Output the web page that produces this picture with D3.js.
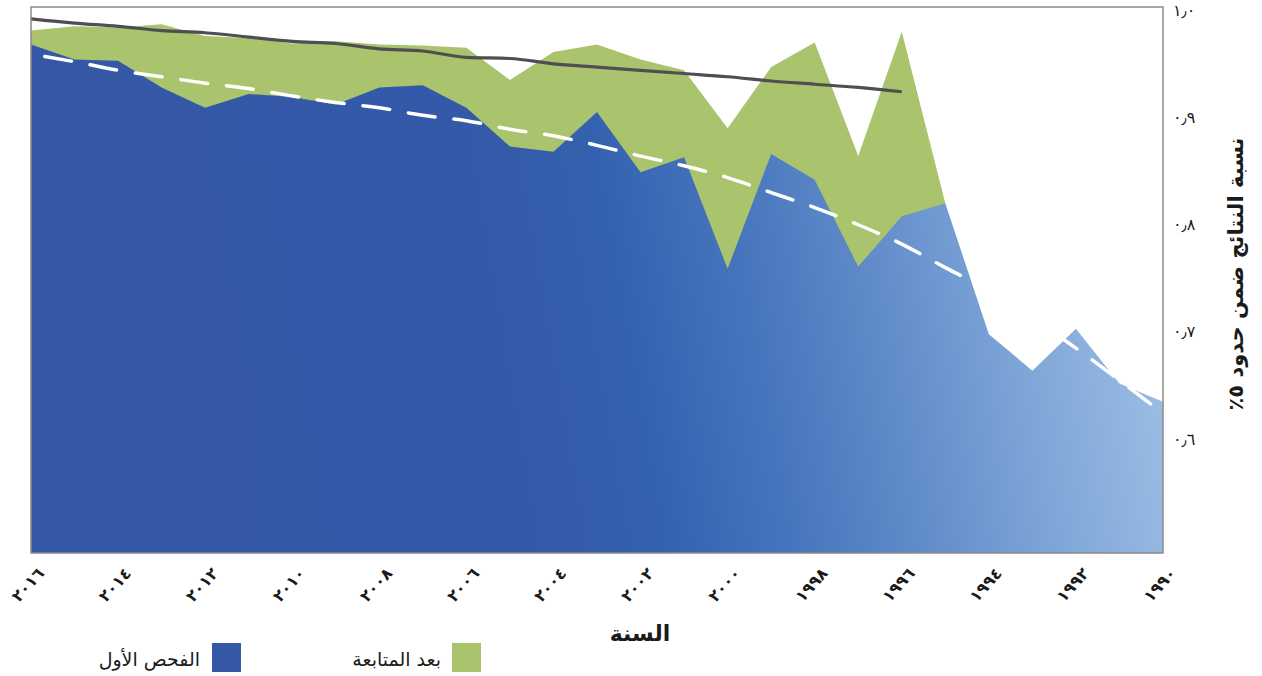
<!DOCTYPE html>
<html lang="ar">
<head>
    <meta charset="UTF-8">
    <title>نسبة النتائج ضمن حدود ٥٪</title>
    <script src="https://d3js.org/d3.v7.min.js"></script>
    <style>
        body { margin: 0; background: #fff; }
        text { font-family: "DejaVu Sans", "Noto Sans", sans-serif; fill: #1a1a1a; }
    </style>
</head>
<body>
</body>

<script>
    var width = 1262;
    var height = 676;

    // years, left to right (2016 -> 1990)
    var years = [2016, 2015, 2014, 2013, 2012, 2011, 2010, 2009, 2008, 2007, 2006, 2005, 2004,
        2003, 2002, 2001, 2000, 1999, 1998, 1997, 1996, 1995, 1994, 1993, 1992, 1991, 1990];

    // الفحص الأول
    var firstExam = [0.965, 0.951, 0.950, 0.925, 0.906, 0.919, 0.916, 0.909, 0.925, 0.927, 0.906, 0.870, 0.865,
        0.902, 0.846, 0.860, 0.756, 0.863, 0.839, 0.758, 0.805, 0.817, 0.695, 0.661, 0.700, 0.649, 0.632];

    // بعد المتابعة (1995 onwards only)
    var followUp = [0.978, 0.982, 0.981, 0.984, 0.973, 0.971, 0.966, 0.968, 0.965, 0.964, 0.962, 0.932, 0.958,
        0.965, 0.951, 0.941, 0.887, 0.944, 0.967, 0.861, 0.977, 0.817];

    // solid trend (2016 -> 1996)
    var trendFollow = [0.989, 0.985, 0.982, 0.978, 0.976, 0.972, 0.968, 0.966, 0.961, 0.959, 0.953, 0.952, 0.947,
        0.944, 0.941, 0.938, 0.935, 0.931, 0.928, 0.925, 0.921];

    // dashed trend (2016 -> 1990)
    var trendFirst = [0.956, 0.949, 0.941, 0.935, 0.929, 0.924, 0.917, 0.911, 0.906, 0.899, 0.894, 0.886, 0.880,
        0.871, 0.861, 0.852, 0.841, 0.827, 0.813, 0.797, 0.779, 0.757, 0.736, 0.710, 0.682, 0.652, 0.621];

    var yTicks = [0.6, 0.7, 0.8, 0.9, 1.0];
    var xTicks = [2016, 2014, 2012, 2010, 2008, 2006, 2004, 2002, 2000, 1998, 1996, 1994, 1992, 1990];

    var arabicDigits = "٠١٢٣٤٥٦٧٨٩";
    function toArabic(s) {
        return String(s).replace(/[0-9]/g, function (c) { return arabicDigits[+c]; }).replace(".", "٫");
    }

    var plotLeft = 31, plotRight = 1163, plotTop = 7, plotBottom = 553;

    var x = d3.scaleLinear().domain([2016, 1990]).range([plotLeft, plotRight]);
    var y = d3.scaleLinear().domain([0.491, 1.0]).range([plotBottom, plotTop]);

    var svg = d3.select("body").append("svg")
        .attr("width", width)
        .attr("height", height);

    var defs = svg.append("defs");
    var grad = defs.append("linearGradient")
        .attr("id", "blueGrad")
        .attr("gradientUnits", "userSpaceOnUse")
        .attr("x1", plotLeft).attr("y1", plotBottom)
        .attr("x2", plotRight).attr("y2", plotBottom - 200);
    [[0, "#3458a6"], [0.44, "#3459a8"], [0.54, "#3461af"], [0.64, "#4472bb"],
        [0.76, "#5f8bc9"], [0.88, "#7fa6d8"], [1, "#9cbee3"]].forEach(function (s) {
        grad.append("stop").attr("offset", s[0]).attr("stop-color", s[1]);
    });

    var firstData = years.map(function (yr, i) { return {year: yr, v: firstExam[i]}; });
    var followData = followUp.map(function (v, i) { return {year: years[i], v: v}; });

    var area = d3.area()
        .x(function (d) { return x(d.year); })
        .y0(plotBottom)
        .y1(function (d) { return y(d.v); });

    // green behind, blue in front
    svg.append("path")
        .datum(followData)
        .attr("d", area)
        .attr("fill", "#a9c46c");

    svg.append("path")
        .datum(firstData)
        .attr("d", area)
        .attr("fill", "url(#blueGrad)");

    var line = d3.line()
        .x(function (d) { return x(d.year); })
        .y(function (d) { return y(d.v); })
        .curve(d3.curveMonotoneX);

    svg.append("path")
        .datum(trendFirst.map(function (v, i) { return {year: years[i], v: v}; }))
        .attr("d", line)
        .attr("fill", "none")
        .attr("stroke", "#ffffff")
        .attr("stroke-width", 3.5)
        .attr("stroke-linecap", "round")
        .attr("stroke-dasharray", "27 19")
        .attr("stroke-dashoffset", 32);

    svg.append("path")
        .datum(trendFollow.map(function (v, i) { return {year: years[i], v: v}; }))
        .attr("d", line)
        .attr("fill", "none")
        .attr("stroke", "#4f4f53")
        .attr("stroke-width", 3.2);

    // frame
    svg.append("rect")
        .attr("x", plotLeft).attr("y", plotTop)
        .attr("width", plotRight - plotLeft).attr("height", plotBottom - plotTop)
        .attr("fill", "none")
        .attr("stroke", "#8a8a8a")
        .attr("stroke-width", 1.5);

    // y tick labels (right side, no tick marks)
    svg.append("g").selectAll("text")
        .data(yTicks)
        .enter().append("text")
        .attr("x", plotRight + 10)
        .attr("y", function (d) { return y(d) + 3; })
        .attr("dy", "0.35em")
        .style("font-size", "16px")
        .text(function (d) { return toArabic(d.toFixed(1)); });

    // x tick labels, slanted
    svg.append("g").selectAll("text")
        .data(xTicks)
        .enter().append("text")
        .attr("transform", function (d) {
            return "translate(" + (x(d) + 5) + "," + 566 + ") rotate(-48)";
        })
        .attr("text-anchor", "end")
        .attr("dy", "0.75em")
        .style("font-size", "16px")
        .style("font-weight", "bold")
        .text(function (d) { return toArabic(d); });

    svg.append("text")
        .attr("x", 640)
        .attr("y", 641)
        .attr("text-anchor", "middle")
        .style("font-size", "22px")
        .style("font-weight", "bold")
        .text("السنة");

    svg.append("text")
        .attr("transform", "translate(1236,274) rotate(-90)")
        .attr("text-anchor", "middle")
        .attr("dy", "0.35em")
        .attr("direction", "rtl")
        .style("font-size", "21px")
        .style("font-weight", "bold")
        .text("نسبة النتائج ضمن حدود ٥٪");

    // legend
    var legend = [
        {label: "الفحص الأول", color: "#3458a6", sx: 212, tx: 200},
        {label: "بعد المتابعة", color: "#a9c46c", sx: 452, tx: 441}
    ];
    var lg = svg.append("g").selectAll("g")
        .data(legend)
        .enter().append("g");
    lg.append("rect")
        .attr("x", function (d) { return d.sx; })
        .attr("y", 643)
        .attr("width", 29)
        .attr("height", 29)
        .attr("fill", function (d) { return d.color; });
    lg.append("text")
        .attr("x", function (d) { return d.tx; })
        .attr("y", 666)
        .attr("text-anchor", "end")
        .style("font-size", "19px")
        .text(function (d) { return d.label; });
</script>
</html>
